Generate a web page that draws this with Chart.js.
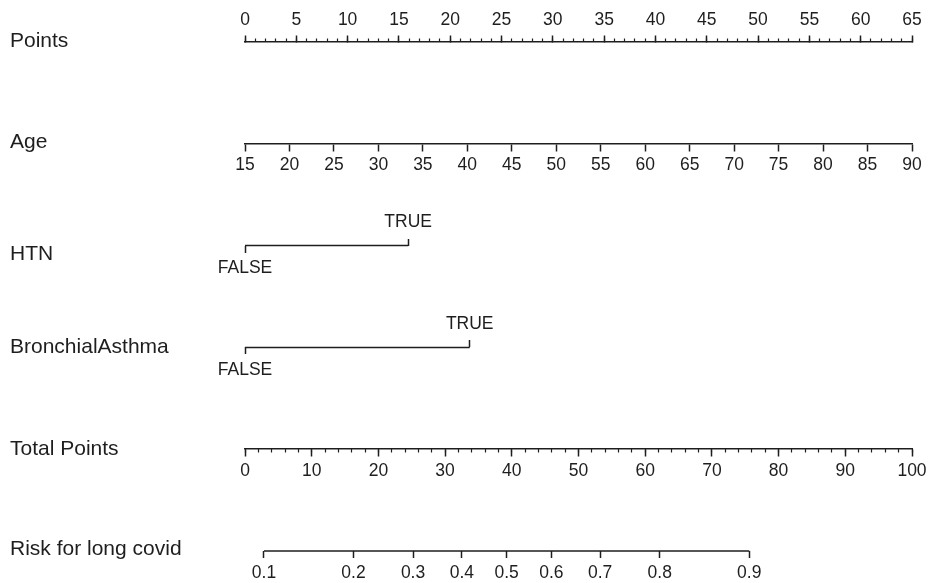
<!DOCTYPE html>
<html><head><meta charset="utf-8">
<script src="https://cdn.jsdelivr.net/npm/chart.js@4.4.1/dist/chart.umd.min.js"></script>
<style>html,body{margin:0;padding:0;background:#fff;}canvas{display:block;}</style>
</head><body>
<canvas id="c" width="928" height="583"></canvas>
<script>
// ---------- values ----------
const rowLabels = ['Points', 'Age', 'HTN', 'BronchialAsthma', 'Total Points', 'Risk for long covid'];
const pointsTicks = [0, 5, 10, 15, 20, 25, 30, 35, 40, 45, 50, 55, 60, 65];
const ageTicks = [15, 20, 25, 30, 35, 40, 45, 50, 55, 60, 65, 70, 75, 80, 85, 90];
const totalTicks = [0, 10, 20, 30, 40, 50, 60, 70, 80, 90, 100];
const riskTicks = [0.1, 0.2, 0.3, 0.4, 0.5, 0.6, 0.7, 0.8, 0.9];
const binaryLevels = ['FALSE', 'TRUE'];
const htnPoints = [0, 15.9];      // points for HTN FALSE / TRUE
const asthmaPoints = [0, 21.9];   // points for BronchialAsthma FALSE / TRUE
// risk axis: logit(risk) = riskIntercept + riskSlope * totalPoints
const riskIntercept = -2.369;
const riskSlope = 0.0604;
const pointsMinorStep = 1;
const totalMinorStep = 2;

// ---------- helpers ----------
const INK = '#1e1e1e';
const FONT = "'Liberation Sans', Arial, Helvetica, sans-serif";
const tickFont = {family: FONT, size: 17.5};
const rowOf = name => rowLabels.indexOf(name);
const riskToPoints = p => (Math.log(p / (1 - p)) - riskIntercept) / riskSlope;
const stepRange = (a, b, s) => { const r = []; for (let v = a; v <= b + 1e-9; v += s) r.push(v); return r; };

function xAxis(o) {
  return {
    type: 'linear', axis: 'x', bounds: 'data',
    position: {y: o.row},
    min: o.min, max: o.max,
    afterBuildTicks: s => { s.ticks = o.values.map(v => ({value: v})); },
    afterFit: s => { s.paddingLeft = 0; s.paddingRight = 0; },
    border: {display: !!o.border, color: INK, width: 1.5},
    grid: {display: true, drawOnChartArea: false, drawTicks: true, tickLength: o.len, tickColor: INK, tickWidth: o.tw || 1.5},
    ticks: {
      display: !!o.labels, autoSkip: false, maxRotation: 0, minRotation: 0,
      padding: o.pad || 0, color: INK, font: tickFont,
      callback: (v, i) => o.labels ? o.labels[i] : ''
    }
  };
}

const ptsMin = pointsTicks[0], ptsMax = pointsTicks[pointsTicks.length - 1];
const totMin = totalTicks[0], totMax = totalTicks[totalTicks.length - 1];
const riskPts = riskTicks.map(riskToPoints);

const scales = {
  y: {
    type: 'linear', position: 'left', reverse: true, min: 0, max: rowLabels.length - 1, bounds: 'data',
    afterBuildTicks: s => {
      const nudge = [-0.008, -0.015, 0.083, 0, 0, -0.015];
      s.ticks = rowLabels.map((_, i) => ({value: i + nudge[i]}));
    },
    afterFit: s => { s.width = 235; },
    grid: {display: false}, border: {display: false},
    ticks: {crossAlign: 'far', autoSkip: false, color: INK, font: {family: FONT, size: 21},
      callback: (v, i) => rowLabels[i]}
  },
  xPts: xAxis({row: rowOf('Points'), min: ptsMin, max: ptsMax, values: pointsTicks, labels: pointsTicks.map(String), len: -7, pad: -25, border: true}),
  xPtsMinor: xAxis({row: rowOf('Points'), min: ptsMin, max: ptsMax, values: stepRange(ptsMin, ptsMax, pointsMinorStep), labels: null, len: -3.5, tw: 1.2}),
  xAge: xAxis({row: rowOf('Age'), min: ageTicks[0], max: ageTicks[ageTicks.length - 1], values: ageTicks, labels: ageTicks.map(String), len: 7, pad: 3.8, border: true}),
  xHtnF: xAxis({row: rowOf('HTN'), min: ptsMin, max: ptsMax, values: [htnPoints[0]], labels: [binaryLevels[0]], len: 7, pad: 4.8}),
  xHtnT: xAxis({row: rowOf('HTN'), min: ptsMin, max: ptsMax, values: [htnPoints[1]], labels: [binaryLevels[1]], len: -7, pad: -26.5}),
  xAstF: xAxis({row: rowOf('BronchialAsthma'), min: ptsMin, max: ptsMax, values: [asthmaPoints[0]], labels: [binaryLevels[0]], len: 7, pad: 5}),
  xAstT: xAxis({row: rowOf('BronchialAsthma'), min: ptsMin, max: ptsMax, values: [asthmaPoints[1]], labels: [binaryLevels[1]], len: -7, pad: -26.3}),
  xTot: xAxis({row: rowOf('Total Points'), min: totMin, max: totMax, values: totalTicks, labels: totalTicks.map(String), len: 7, pad: 4.8, border: true}),
  xTotMinor: xAxis({row: rowOf('Total Points'), min: totMin, max: totMax, values: stepRange(totMin, totMax, totalMinorStep), labels: null, len: 3.5, tw: 1.2}),
  xRisk: xAxis({row: rowOf('Risk for long covid'), min: totMin, max: totMax, values: riskPts, labels: riskTicks.map(String), len: 7, pad: 4.3})
};

const lineDs = (pts, row, xAxisID) => ({
  data: pts.map(x => ({x, y: row})),
  xAxisID, yAxisID: 'y', showLine: true, borderColor: INK, borderWidth: 1.5,
  pointRadius: 0, pointHoverRadius: 0, clip: false
});

new Chart(document.getElementById('c'), {
  type: 'scatter',
  data: {
    datasets: [
      lineDs(htnPoints, rowOf('HTN'), 'xPts'),
      lineDs(asthmaPoints, rowOf('BronchialAsthma'), 'xPts'),
      lineDs([riskPts[0], riskPts[riskPts.length - 1]], rowOf('Risk for long covid'), 'xTot')
    ]
  },
  options: {
    responsive: false, animation: false, devicePixelRatio: 1,
    layout: {padding: {left: 10, right: 16, top: 42, bottom: 32}},
    plugins: {legend: {display: false}, tooltip: {enabled: false}},
    events: [],
    scales
  }
});
</script>
</body></html>
